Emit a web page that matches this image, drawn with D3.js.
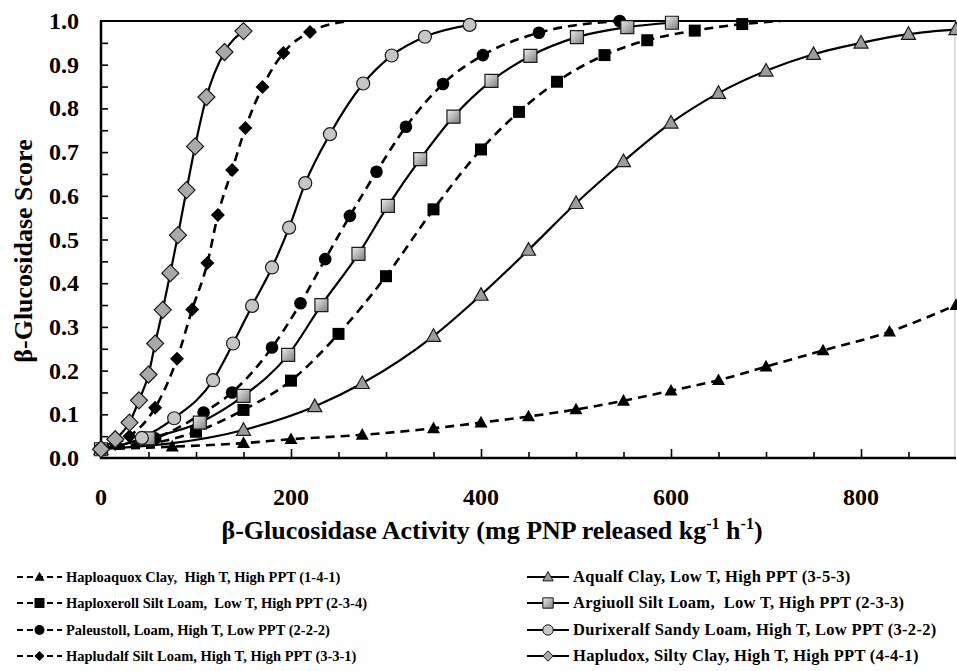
<!DOCTYPE html>
<html>
<head>
<meta charset="utf-8">
<script src="https://cdn.jsdelivr.net/npm/d3@7"></script>
<style>
  body { margin: 0; background: #fff; }
  svg { display: block; }
  text { font-family: "Liberation Serif", "Times New Roman", serif; font-weight: bold; fill: #000; }
</style>
</head>
<body>
<div id="chart"></div>
<script>
// ---- data ----
const xTickValues = [0, 200, 400, 600, 800]
const yTickValues = [0, 0.1, 0.2, 0.3, 0.4, 0.5, 0.6, 0.7, 0.8, 0.9, 1.0]

const haploaquoxX = [0, 75, 150, 200, 275, 350, 400, 450, 500, 550, 600, 650, 700, 760, 830, 900]
const haploaquoxY = [0.02, 0.026, 0.034, 0.043, 0.053, 0.068, 0.081, 0.095, 0.111, 0.131, 0.154, 0.178, 0.209, 0.246, 0.289, 0.35]

const haploxerollX = [0, 100, 150, 200, 250, 300, 350, 400, 440, 480, 530, 575, 625, 675, 715]
const haploxerollY = [0.02, 0.06, 0.110, 0.177, 0.284, 0.416, 0.569, 0.706, 0.792, 0.861, 0.922, 0.956, 0.978, 0.993, 1.0]

const paleustollX = [0, 57, 108, 138, 180, 210, 236, 262, 290, 321, 360, 402, 461, 546]
const paleustollY = [0.02, 0.045, 0.104, 0.150, 0.253, 0.354, 0.455, 0.554, 0.655, 0.758, 0.856, 0.922, 0.973, 1.0]

const hapludalfX = [0, 15, 30, 57, 80, 96, 112, 123, 138, 152, 170, 192, 220, 262]
const hapludalfY = [0.02, 0.032, 0.05, 0.115, 0.227, 0.34, 0.446, 0.556, 0.659, 0.755, 0.849, 0.927, 0.975, 1.0]

const aqualfX = [0, 150, 225, 275, 350, 400, 450, 500, 550, 600, 650, 700, 750, 800, 850, 900]
const aqualfY = [0.02, 0.064, 0.118, 0.171, 0.279, 0.373, 0.476, 0.583, 0.679, 0.767, 0.835, 0.886, 0.924, 0.950, 0.970, 0.981]

const argiuollX = [0, 50, 104, 150, 197, 232, 271, 302, 336, 371, 411, 452, 501, 554, 601]
const argiuollY = [0.02, 0.045, 0.081, 0.142, 0.236, 0.350, 0.467, 0.577, 0.684, 0.781, 0.863, 0.920, 0.963, 0.986, 0.996]

const durixeralfX = [0, 43, 77, 118, 139, 159, 180, 198, 215, 241, 276, 306, 341, 388]
const durixeralfY = [0.02, 0.046, 0.091, 0.178, 0.262, 0.348, 0.436, 0.527, 0.629, 0.741, 0.857, 0.921, 0.964, 0.991]

const hapludoxX = [0, 15, 30, 40, 50, 57, 65, 73, 81, 90, 99, 111, 130, 150]
const hapludoxY = [0.02, 0.043, 0.081, 0.132, 0.191, 0.262, 0.339, 0.423, 0.51, 0.613, 0.713, 0.826, 0.929, 0.977]

const legendLabels = [
    "Haploaquox Clay,  High T, High PPT (1-4-1)",
    "Haploxeroll Silt Loam,  Low T, High PPT (2-3-4)",
    "Paleustoll, Loam, High T, Low PPT (2-2-2)",
    "Hapludalf Silt Loam, High T, High PPT (3-3-1)",
    "Aqualf Clay, Low T, High PPT (3-5-3)",
    "Argiuoll Silt Loam,  Low T, High PPT (2-3-3)",
    "Durixeralf Sandy Loam, High T, Low PPT (3-2-2)",
    "Hapludox, Silty Clay, High T, High PPT (4-4-1)"
]

// ---- series styling ----
const zip = (xs, ys) => xs.map((x, i) => ({x: x, y: ys[i]}))

let series = [
    {name: legendLabels[0], points: zip(haploaquoxX, haploaquoxY), marked: haploaquoxX.length, shape: "triangle", dark: true, r: 6.5},
    {name: legendLabels[1], points: zip(haploxerollX, haploxerollY), marked: haploxerollX.length - 1, shape: "square", dark: true, r: 6},
    {name: legendLabels[2], points: zip(paleustollX, paleustollY), marked: paleustollX.length, shape: "circle", dark: true, r: 6.3},
    {name: legendLabels[3], points: zip(hapludalfX, hapludalfY), marked: hapludalfX.length - 1, shape: "diamond", dark: true, r: 7},
    {name: legendLabels[4], points: zip(aqualfX, aqualfY), marked: aqualfX.length, shape: "triangle", dark: false, r: 7, fill: "#9c9c9c"},
    {name: legendLabels[5], points: zip(argiuollX, argiuollY), marked: argiuollX.length, shape: "square", dark: false, r: 6.5, fill: "url(#sqGrad)"},
    {name: legendLabels[6], points: zip(durixeralfX, durixeralfY), marked: durixeralfX.length, shape: "circle", dark: false, r: 6.5, fill: "#c6c6c6"},
    {name: legendLabels[7], points: zip(hapludoxX, hapludoxY), marked: hapludoxX.length, shape: "diamond", dark: false, r: 8.5, fill: "#a9a9a9"}
]

function markerPath(shape, r) {
    if (shape == "square") return `M${-r},${-r}h${2*r}v${2*r}h${-2*r}Z`
    if (shape == "diamond") return `M0,${-r}L${r},0L0,${r}L${-r},0Z`
    if (shape == "triangle") return `M0,${-r*1.05}L${r},${r*0.75}L${-r},${r*0.75}Z`
    return d3.symbol(d3.symbolCircle, Math.PI*r*r)()
}

const svgWidth = 957, svgHeight = 671
const plot = {left: 101, right: 956, top: 21, bottom: 458}

let svg = d3.select('#chart')
    .append('svg')
    .attr('width', svgWidth)
    .attr('height', svgHeight)

let defs = svg.append("defs")
let grad = defs.append("linearGradient")
    .attr("id", "sqGrad")
    .attr("x1", "0").attr("y1", "0").attr("x2", "1").attr("y2", "1")
grad.append("stop").attr("offset", "0%").attr("stop-color", "#ececec")
grad.append("stop").attr("offset", "100%").attr("stop-color", "#7c7c7c")

defs.append("clipPath").attr("id", "plotClip")
    .append("rect")
    .attr("x", plot.left).attr("y", plot.top)
    .attr("width", plot.right - plot.left).attr("height", plot.bottom - plot.top)

let xScale = d3.scaleLinear()
    .domain([0, 900])
    .range([plot.left, plot.right])

let yScale = d3.scaleLinear()
    .domain([0, 1])
    .range([plot.bottom, plot.top])

let line = d3.line()
    .x(d => xScale(d.x))
    .y(d => yScale(d.y))
    .curve(d3.curveMonotoneX)

// ---- axes ----
let axisGroup = svg.append("g")

// minor ticks every 50 on x, major every 200
axisGroup.append("g")
    .attr("transform", `translate(0,${plot.bottom})`)
    .call(d3.axisTop(xScale).tickValues(d3.range(50, 900, 50)).tickSize(6).tickFormat(""))
    .call(g => g.selectAll(".tick line").attr("stroke", "#000").attr("stroke-width", 1.6)
        .attr("y2", d => d % 200 == 0 ? -9 : -6))
    .call(g => g.select(".domain").remove())

axisGroup.append("g")
    .attr("transform", `translate(${plot.left},0)`)
    .call(d3.axisRight(yScale).tickValues(d3.range(0.05, 1.0, 0.05)).tickSize(7).tickFormat(""))
    .call(g => g.selectAll(".tick line").attr("stroke", "#000").attr("stroke-width", 1.6))
    .call(g => g.select(".domain").remove())

// frame
axisGroup.append("line")
    .attr("x1", plot.left).attr("x2", plot.right).attr("y1", plot.top).attr("y2", plot.top)
    .attr("stroke", "#000").attr("stroke-width", 2)
axisGroup.append("line")
    .attr("x1", plot.right - 1).attr("x2", plot.right - 1).attr("y1", plot.top).attr("y2", plot.bottom)
    .attr("stroke", "#bbb").attr("stroke-width", 1)
axisGroup.append("line")
    .attr("x1", plot.left - 1).attr("x2", plot.right).attr("y1", plot.bottom).attr("y2", plot.bottom)
    .attr("stroke", "#000").attr("stroke-width", 2.5)
axisGroup.append("line")
    .attr("x1", plot.left).attr("x2", plot.left).attr("y1", plot.top - 1).attr("y2", plot.bottom + 1)
    .attr("stroke", "#000").attr("stroke-width", 2.5)

// tick labels
axisGroup.selectAll(".xlab")
    .data(xTickValues)
    .join("text")
    .attr("class", "xlab")
    .attr("x", d => xScale(d))
    .attr("y", 505)
    .attr("text-anchor", "middle")
    .attr("font-size", 24)
    .text(d => d)

axisGroup.selectAll(".ylab")
    .data(yTickValues)
    .join("text")
    .attr("class", "ylab")
    .attr("x", 79)
    .attr("y", d => yScale(d) + 8)
    .attr("text-anchor", "end")
    .attr("font-size", 24)
    .text(d => d3.format(".1f")(d))

// axis titles
let xTitle = svg.append("text")
    .attr("x", 492)
    .attr("y", 539)
    .attr("text-anchor", "middle")
    .attr("font-size", 26)
xTitle.append("tspan").text("β-Glucosidase Activity (mg PNP released kg")
xTitle.append("tspan").attr("font-size", 16).attr("dy", -10).text("-1")
xTitle.append("tspan").attr("dy", 10).text(" h")
xTitle.append("tspan").attr("font-size", 16).attr("dy", -10).text("-1")
xTitle.append("tspan").attr("dy", 10).text(")")

svg.append("text")
    .attr("transform", "translate(32,251) rotate(-90)")
    .attr("text-anchor", "middle")
    .attr("font-size", 26)
    .text("β-Glucosidase Score")

// ---- series ----
let lineGroup = svg.append("g").attr("clip-path", "url(#plotClip)")
let markerGroup = svg.append("g")

lineGroup.selectAll("path")
    .data(series)
    .join("path")
    .attr("fill", "none")
    .attr("stroke", "#000")
    .attr("stroke-width", d => d.dark ? 2.6 : 2.2)
    .attr("stroke-dasharray", d => d.dark ? "9,6" : null)
    .attr("d", d => line(d.points))

series.forEach(s => {
    markerGroup.append("g")
        .selectAll("path")
        .data(s.points.slice(0, s.marked))
        .join("path")
        .attr("transform", d => `translate(${xScale(d.x)},${yScale(d.y)})`)
        .attr("d", markerPath(s.shape, s.r))
        .attr("fill", s.dark ? "#000" : s.fill)
        .attr("stroke", s.dark ? "none" : "#1a1a1a")
        .attr("stroke-width", 1.2)
})

// ---- legend ----
let legendGroup = svg.append("g")
const legendRows = [577, 603, 630, 656]

series.forEach((s, i) => {
    let col = i < 4 ? 0 : 1
    let y = legendRows[i % 4]
    let x0 = col == 0 ? 17 : 527
    let x1 = col == 0 ? 62 : 569
    let cx = (x0 + x1) / 2
    legendGroup.append("line")
        .attr("x1", x0).attr("x2", x1).attr("y1", y).attr("y2", y)
        .attr("stroke", "#000")
        .attr("stroke-width", s.dark ? 2.2 : 2)
        .attr("stroke-dasharray", s.dark ? "6,4" : null)
    legendGroup.append("path")
        .attr("transform", `translate(${cx},${y})`)
        .attr("d", markerPath(s.shape, s.dark ? 5 : 5.2))
        .attr("fill", s.dark ? "#000" : s.fill)
        .attr("stroke", s.dark ? "none" : "#1a1a1a")
        .attr("stroke-width", 1)
    legendGroup.append("text")
        .attr("x", col == 0 ? 66 : 573)
        .attr("y", y + 5)
        .attr("font-size", col == 0 ? 14.5 : 16.5)
        .attr("letter-spacing", col == 0 ? 0 : 0.3)
        .style("white-space", "pre")
        .text(s.name)
})
</script>
</body>
</html>
